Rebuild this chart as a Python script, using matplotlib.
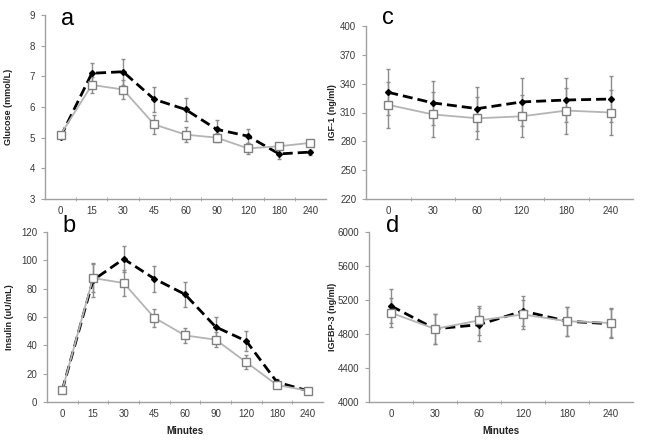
import matplotlib
matplotlib.use("Agg")
import matplotlib.pyplot as plt
import matplotlib.transforms as mtrans
import numpy as np

plt.rcParams["font.family"] = ["Liberation Sans", "DejaVu Sans"]

# ---- data ----
glu_cats = ["0", "15", "30", "45", "60", "90", "120", "180", "240"]
glu_black = [5.03, 7.10, 7.15, 6.25, 5.92, 5.27, 5.05, 4.47, 4.53]
glu_black_err = [0.05, 0.35, 0.43, 0.40, 0.38, 0.30, 0.23, 0.15, 0.08]
glu_gray = [5.10, 6.72, 6.57, 5.43, 5.10, 5.00, 4.65, 4.72, 4.83]
glu_gray_err = [0.05, 0.25, 0.32, 0.30, 0.25, 0.15, 0.17, 0.08, 0.05]

ins_cats = glu_cats
ins_black = [8.5, 86, 101, 87, 76, 53, 43, 14, 8]
ins_black_err = [1, 12, 9, 9, 9, 7, 7, 2, 1]
ins_gray = [8.5, 87.5, 84, 59.5, 47, 44, 28, 12, 8]
ins_gray_err = [1, 10, 9, 6.5, 5, 5.5, 5, 1.5, 1]

igf_cats = ["0", "30", "60", "120", "180", "240"]
igf_black = [331, 320, 314, 321, 323, 324]
igf_black_err = [24, 23, 23, 25, 23, 24]
igf_gray = [318, 308, 304, 306, 312, 310]
igf_gray_err = [24, 23, 22, 22, 24, 23]

bp3_cats = igf_cats
bp3_black = [5130, 4860, 4910, 5070, 4950, 4920]
bp3_black_err = [200, 180, 190, 180, 170, 170]
bp3_gray = [5050, 4860, 4960, 5030, 4950, 4930]
bp3_gray_err = [170, 180, 170, 170, 170, 170]

W, H = 646, 442
fig = plt.figure(figsize=(W / 100, H / 100), dpi=100)

def rect(l, r, t, b):
    return [l / W, (H - b) / H, (r - l) / W, (b - t) / H]

panels = [
    dict(rect=rect(45, 326, 15, 199), cats=glu_cats, bk=glu_black, bke=glu_black_err,
         gr=glu_gray, gre=glu_gray_err, ylim=(3, 9), yticks=np.arange(3, 10, 1),
         ylabel="Glucose (mmol/L)", letter="a", lpos=(61, 25), ylx=13, xlabel=False),
    dict(rect=rect(47, 323, 232, 402), cats=ins_cats, bk=ins_black, bke=ins_black_err,
         gr=ins_gray, gre=ins_gray_err, ylim=(0, 120), yticks=np.arange(0, 121, 20),
         ylabel="Insulin (uU/mL)", letter="b", lpos=(62, 232), ylx=14, xlabel=True),
    dict(rect=rect(366, 633, 26, 199), cats=igf_cats, bk=igf_black, bke=igf_black_err,
         gr=igf_gray, gre=igf_gray_err, ylim=(220, 400), yticks=np.arange(220, 401, 30),
         ylabel="IGF-1 (ng/ml)", letter="c", lpos=(382, 24), ylx=337, xlabel=False),
    dict(rect=rect(369, 633, 232, 402), cats=bp3_cats, bk=bp3_black, bke=bp3_black_err,
         gr=bp3_gray, gre=bp3_gray_err, ylim=(4000, 6000), yticks=np.arange(4000, 6001, 400),
         ylabel="IGFBP-3 (ng/ml)", letter="d", lpos=(386, 232), ylx=337, xlabel=True),
]

axis_col = "#a0a0a0"
tick_col = "#3a3a3a"
for p in panels:
    ax = fig.add_axes(p["rect"])
    n = len(p["cats"])
    x = np.arange(n)
    ax.errorbar(x, p["bk"], yerr=p["bke"], fmt="none", ecolor="#8c8c8c",
                elinewidth=1.0, capsize=1.5, capthick=1.0, zorder=2)
    ax.errorbar(x, p["gr"], yerr=p["gre"], fmt="none", ecolor="#8c8c8c",
                elinewidth=1.0, capsize=1.5, capthick=1.0, zorder=2)
    ax.plot(x, p["bk"], color="black", lw=2.0, dashes=(3.6, 1.8),
            marker="D", ms=3.0, mfc="black", mec="black", zorder=3)
    ax.plot(x, p["gr"], color="#b4b4b4", lw=1.3, marker="s", ms=5.2,
            mfc="white", mec="#808080", mew=1.0, zorder=4)
    ax.set_xlim(-0.5, n - 0.5)
    ax.set_ylim(*p["ylim"])
    ax.set_yticks(p["yticks"])
    ax.set_xticks(x)
    ax.set_xticklabels(p["cats"])
    ax.set_xticks(np.arange(0.5, n - 0.5, 1), minor=True)
    ax.tick_params(axis="x", which="major", length=0, pad=5, labelsize=7, colors=tick_col)
    ax.tick_params(axis="x", which="minor", length=3, color=axis_col, direction="inout")
    ax.tick_params(axis="y", length=3, color=axis_col, labelsize=7, labelcolor=tick_col, pad=4)
    for s in ["top", "right"]:
        ax.spines[s].set_visible(False)
    for s in ["left", "bottom"]:
        ax.spines[s].set_color(axis_col)
        ax.spines[s].set_linewidth(1.0)
    ax.set_ylabel(p["ylabel"], fontsize=6.5, fontweight="bold", color="#202020")
    tr = mtrans.blended_transform_factory(fig.transFigure, ax.transAxes)
    ax.yaxis.set_label_coords(p["ylx"] / W, 0.5, transform=tr)
    if p["xlabel"]:
        ax.set_xlabel("Minutes", fontsize=7, fontweight="bold", color="#202020", labelpad=5)
    fig.text(p["lpos"][0] / W, 1 - p["lpos"][1] / H, p["letter"], fontsize=17,
             ha="left", va="baseline", color="black")

fig.savefig("out.png", dpi=100)
